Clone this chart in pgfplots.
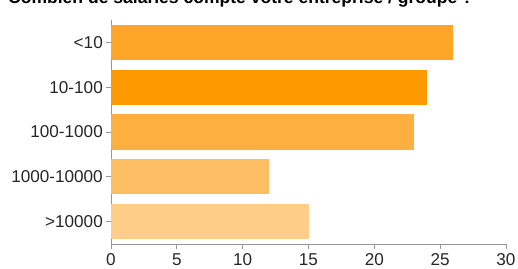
\documentclass[border=0pt]{standalone}
\usepackage{fontspec}
\setmainfont{Liberation Sans}
\usepackage{pgfplots}
\pgfplotsset{compat=1.18}
\definecolor{cA}{RGB}{253,166,40}
\definecolor{cB}{RGB}{255,153,0}
\definecolor{cC}{RGB}{253,176,64}
\definecolor{cD}{RGB}{253,189,98}
\definecolor{cE}{RGB}{254,205,136}
\definecolor{axgray}{RGB}{150,150,150}
\begin{document}
\begin{tikzpicture}
\begin{axis}[
  at={(0,0)}, anchor=south west,
  scale only axis, width=395bp, height=224bp,
  xmin=0, xmax=30, ymin=-0.5, ymax=4.5,
  axis x line*=bottom, axis y line*=left,
  axis line style={axgray, line width=0.8pt},
  every tick/.style={axgray, line width=0.8pt},
  tick align=outside,
  major tick length=5bp,
  xtick={0,5,...,30},
  ytick={0,1,2,3,4},
  yticklabels={>10000,1000-10000,100-1000,10-100,<10},
  /pgf/number format/assume math mode=true,
  tick label style={font=\fontsize{17.2}{20}\selectfont, text=black!85},
  yticklabel style={inner sep=0pt, xshift=-3bp},
  xticklabel style={inner sep=0pt, yshift=-4.5bp},
  xbar, bar width=0.79, bar shift=0pt,
  clip=false,
]
\addplot[fill=cE, draw=none] coordinates {(15,0)};
\addplot[fill=cD, draw=none] coordinates {(12,1)};
\addplot[fill=cC, draw=none] coordinates {(23,2)};
\addplot[fill=cB, draw=none] coordinates {(24,3)};
\addplot[fill=cA, draw=none] coordinates {(26,4)};
\end{axis}
\node[anchor=base west, inner sep=0pt, font=\bfseries\fontsize{17.6}{20}\selectfont] at (-103bp,240bp) {Combien de salariés compte votre entreprise / groupe ?};
\pgfresetboundingbox
\path[use as bounding box] (-111bp,-25bp) rectangle (407bp,244bp);
\end{tikzpicture}
\end{document}
